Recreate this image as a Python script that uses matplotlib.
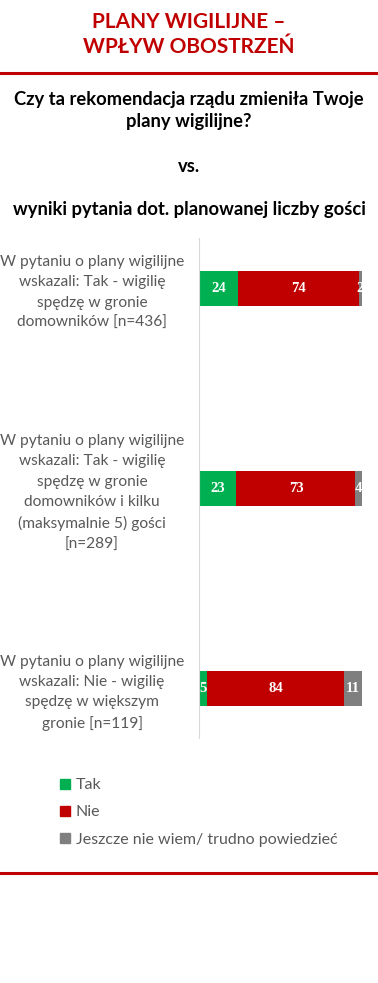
import matplotlib.pyplot as plt
from matplotlib.lines import Line2D
from matplotlib.patches import Patch

categories = [
    "W pytaniu o plany wigilijne\nwskazali: Tak - wigilię\nspędzę w gronie\ndomowników [n=436]",
    "W pytaniu o plany wigilijne\nwskazali: Tak - wigilię\nspędzę w gronie\ndomowników i kilku\n(maksymalnie 5) gości\n[n=289]",
    "W pytaniu o plany wigilijne\nwskazali: Nie - wigilię\nspędzę w większym\ngronie [n=119]",
]
series = ["Tak", "Nie", "Jeszcze nie wiem/ trudno powiedzieć"]
tak = [24, 23, 5]
nie = [74, 73, 84]
nie_wiem = [2, 4, 11]
colors = ["#00B050", "#C00000", "#7F7F7F"]

W, H = 378, 983
fig = plt.figure(figsize=(W / 100, H / 100), dpi=100)

red = "#C00000"
fig.text(0.5, 1 - 22 / H, "PLANY WIGILIJNE –", ha="center", va="center",
         color=red, fontsize=15, fontweight="bold", family="Lato")
fig.text(0.5, 1 - 47 / H, "WPŁYW OBOSTRZEŃ", ha="center", va="center",
         color=red, fontsize=15, fontweight="bold", family="Lato")
fig.add_artist(Line2D([0, 1], [1 - 73 / H] * 2, transform=fig.transFigure, color=red, lw=2.2))
fig.add_artist(Line2D([0, 1], [1 - 873 / H] * 2, transform=fig.transFigure, color=red, lw=2.2))

sub = dict(ha="center", va="center", color="black", fontsize=13.2, fontweight="bold", family="Lato")
fig.text(0.5, 1 - 100 / H, "Czy ta rekomendacja rządu zmieniła Twoje", **sub)
fig.text(0.5, 1 - 122 / H, "plany wigilijne?", **sub)
fig.text(0.5, 1 - 166 / H, "vs.", **sub)
fig.text(0.5, 1 - 209 / H, "wyniki pytania dot. planowanej liczby gości", **sub)

ax = fig.add_axes([199 / W, (H - 738) / H, 163 / W, 500 / H])
y = list(range(len(categories)))
left = [0] * len(categories)
for vals, c in zip([tak, nie, nie_wiem], colors):
    bars = ax.barh(y, vals, left=left, height=0.175, color=c)
    for b, v in zip(bars, vals):
        ax.text(b.get_x() + b.get_width() / 2, b.get_y() + b.get_height() / 2, str(v),
                ha="center", va="center", color="white", fontsize=10.5,
                fontweight="bold", family="Liberation Serif")
    left = [l + v for l, v in zip(left, vals)]

ax.set_xlim(0, 100)
ax.set_ylim(2.25, -0.25)
ax.set_yticks(y)
ax.set_yticklabels(categories, ha="center", multialignment="center", color="#595959",
                   fontsize=11.2, family="Lato", linespacing=1.58)
ax.tick_params(axis="y", length=0, pad=77)
ax.set_xticks([])
for s in ["top", "right", "bottom"]:
    ax.spines[s].set_visible(False)
ax.spines["left"].set_color("#D9D9D9")

handles = [Patch(color=c) for c in colors]
fig.legend(handles, series, loc="upper left", bbox_to_anchor=(46 / W, 1 - 764 / H),
           frameon=False, handlelength=0.6, handleheight=0.6, handletextpad=0.35,
           labelspacing=0.82, prop={"family": "Lato", "size": 11.5}, labelcolor="#595959")

fig.savefig("out.png", dpi=100)
